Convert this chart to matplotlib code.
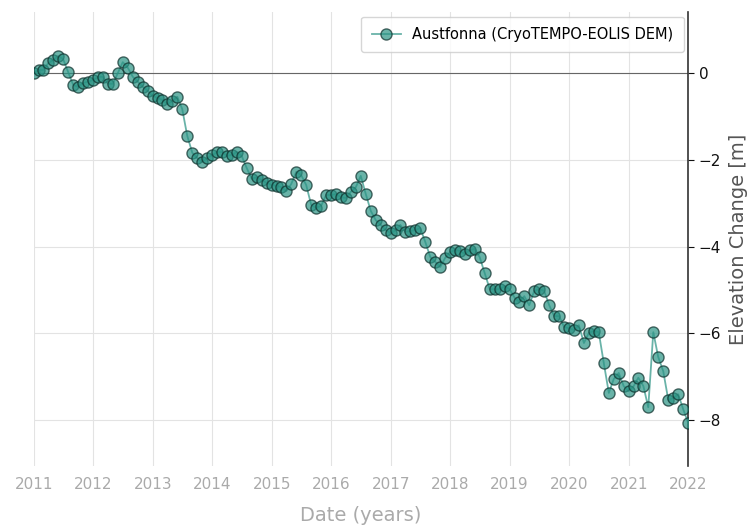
import matplotlib.pyplot as plt
import matplotlib.dates as mdates
import pandas as pd

# monthly elevation change, Jan 2011 .. Jan 2022
dates = pd.date_range('2011-01-01', '2022-01-01', freq='MS')
elev = [
    0.00, 0.07, 0.07, 0.23, 0.30, 0.39, 0.32, 0.02, -0.28, -0.32, -0.23, -0.20,
    -0.16, -0.09, -0.09, -0.25, -0.25, 0.00, 0.25, 0.12, -0.09, -0.20, -0.32, -0.41,
    -0.53, -0.58, -0.62, -0.71, -0.65, -0.55, -0.83, -1.45, -1.84, -1.96, -2.05, -1.96,
    -1.89, -1.82, -1.82, -1.91, -1.89, -1.82, -1.91, -2.19, -2.44, -2.40, -2.47, -2.53,
    -2.58, -2.60, -2.63, -2.72, -2.56, -2.28, -2.35, -2.58, -3.04, -3.11, -3.06, -2.81,
    -2.81, -2.79, -2.86, -2.88, -2.74, -2.63, -2.37, -2.79, -3.18, -3.39, -3.50, -3.62,
    -3.69, -3.62, -3.50, -3.66, -3.64, -3.62, -3.57, -3.89, -4.24, -4.35, -4.47, -4.26,
    -4.12, -4.08, -4.10, -4.17, -4.08, -4.05, -4.24, -4.61, -4.98, -4.98, -4.98, -4.91,
    -4.98, -5.18, -5.28, -5.14, -5.35, -5.02, -4.98, -5.02, -5.35, -5.60, -5.60, -5.85,
    -5.88, -5.92, -5.81, -6.22, -5.99, -5.94, -5.97, -6.68, -7.37, -7.05, -6.91, -7.21,
    -7.33, -7.21, -7.02, -7.21, -7.70, -5.97, -6.54, -6.87, -7.53, -7.49, -7.40, -7.74,
    -8.06,
]
label = 'Austfonna (CryoTEMPO-EOLIS DEM)'
years = list(range(2011, 2023))

fig = plt.figure(figsize=(7.48, 5.30), dpi=100)
ax = fig.add_axes([0.045, 0.121, 0.875, 0.856])

ax.plot(dates, elev, '-o', color='#2a9384', alpha=0.7, lw=1.3,
        markersize=8, markeredgecolor='#0d2f2b', markeredgewidth=1.0,
        label=label, zorder=3)
ax.axhline(0, color='#666666', lw=0.8, zorder=2)

ax.set_xlim(pd.Timestamp('2011-01-01'), pd.Timestamp('2022-01-01'))
ax.set_ylim(-9.05, 1.4)
ax.set_xticks([pd.Timestamp(f'{y}-01-01') for y in years])
ax.xaxis.set_major_formatter(mdates.DateFormatter('%Y'))
ax.set_yticks([-8, -6, -4, -2, 0])

ax.grid(True, color='#e3e3e3', lw=0.8)
ax.set_axisbelow(True)
for s in ['left', 'top', 'bottom']:
    ax.spines[s].set_visible(False)
ax.spines['right'].set_color('#333333')
ax.spines['right'].set_linewidth(1.2)

ax.yaxis.tick_right()
ax.yaxis.set_label_position('right')
ax.tick_params(axis='y', labelsize=11, length=4, colors='#111111')
ax.tick_params(axis='x', labelsize=11, length=0, colors='#aaaaaa', pad=8)

ax.set_xlabel('Date (years)', fontsize=14, color='#aaaaaa', labelpad=10)
ax.set_ylabel('Elevation Change [m]', fontsize=14, color='#555555', labelpad=6)

ax.legend(loc='upper right', fontsize=10.5, frameon=True, edgecolor='#cccccc',
          borderpad=0.7, borderaxespad=0.3)

fig.savefig('out.png', dpi=100)
